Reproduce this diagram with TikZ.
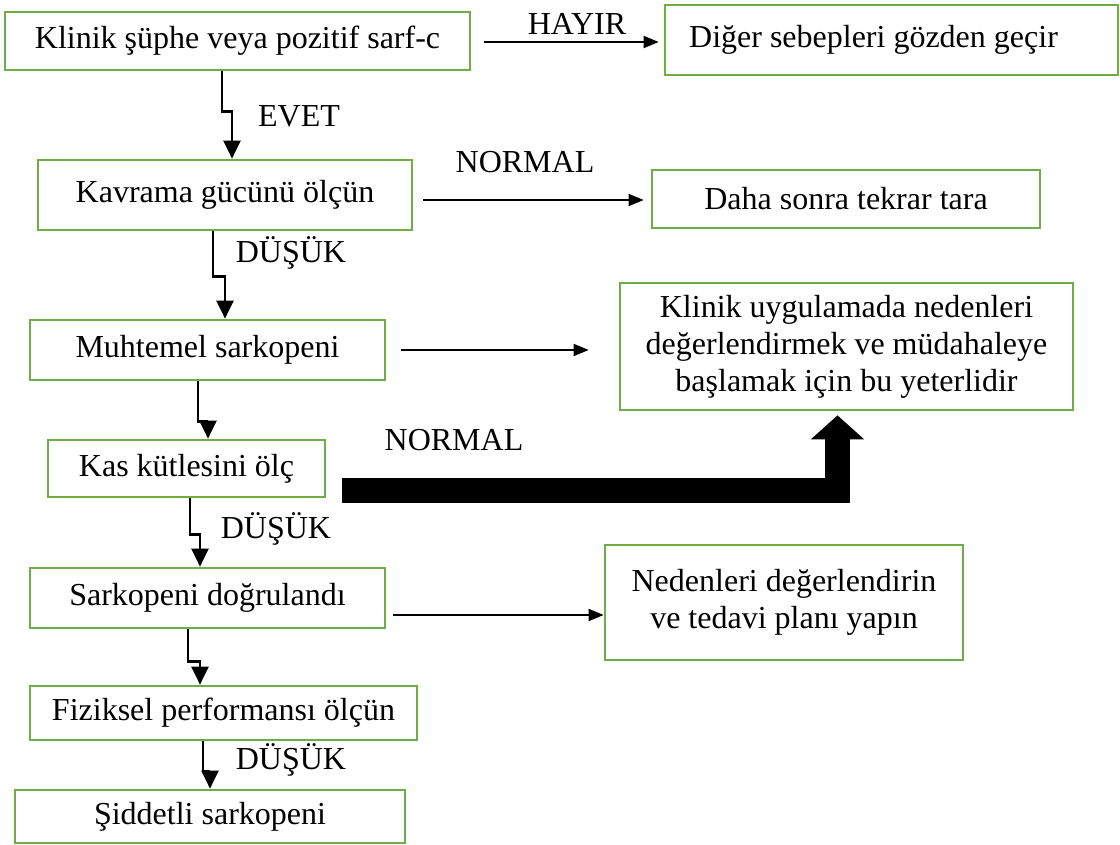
\documentclass[tikz,border=0pt]{standalone}
\usepackage{fontspec}
\setmainfont{Liberation Serif}
\usetikzlibrary{arrows.meta,calc}
\definecolor{kutu}{HTML}{70AD47}
\begin{document}
\begin{tikzpicture}[x=1pt,y=1pt]
        \tikzstyle{box}=[draw=kutu, line width=2.7pt, inner sep=0pt, align=center, font=\fontsize{32}{37}\selectfont]
        \tikzstyle{lbl}=[inner sep=0pt, font=\fontsize{32}{37}\selectfont]
        \tikzstyle{zz}=[line width=2.6pt, -{Triangle[width=17pt,length=18pt]}]
        \tikzstyle{ok}=[line width=1.8pt, -{Triangle[width=12pt,length=15pt]}]
        \useasboundingbox (0,0) rectangle (1120,-845);

        \node[box, minimum width=465, minimum height=58] (b1) at (237.5,-41) {Klinik şüphe veya pozitif sarf-c};
        \node[box, minimum width=453, minimum height=70] (b2) at (891.5,-40) {Diğer sebepleri gözden geçir\hspace*{36pt}};
        \node[box, minimum width=374, minimum height=70] (b3) at (225,-195) {Kavrama gücünü ölçün};
        \node[box, minimum width=388, minimum height=58] (b4) at (846,-199) {Daha sonra tekrar tara};
        \node[box, minimum width=355, minimum height=60] (b5) at (207.5,-350) {Muhtemel sarkopeni};
        \node[box, minimum width=453, minimum height=127] (b6) at (846.5,-346.5) {Klinik uygulamada nedenleri\\değerlendirmek ve müdahaleye\\başlamak için bu yeterlidir};
        \node[box, minimum width=277, minimum height=57] (b7) at (186.5,-468.5) {Kas kütlesini ölç};
        \node[box, minimum width=355, minimum height=60] (b8) at (207.5,-598) {Sarkopeni doğrulandı};
        \node[box, minimum width=358, minimum height=115] (b9) at (784,-602.5) {Nedenleri değerlendirin\\ve tedavi planı yapın};
        \node[box, minimum width=387, minimum height=54] (b10) at (223.5,-713) {Fiziksel performansı ölçün};
        \node[box, minimum width=390, minimum height=53] (b11) at (210,-816.5) {Şiddetli sarkopeni};

        \node[lbl] (hayir) at (577,-24) {HAYIR};
        \node[lbl] (evet) at (299,-116) {EVET};
        \node[lbl] (normal1) at (525,-162) {NORMAL};
        \node[lbl] (dusuk1) at (291,-253) {DÜŞÜK};
        \node[lbl] (normal2) at (454,-440) {NORMAL};
        \node[lbl] (dusuk2) at (276,-529) {DÜŞÜK};
        \node[lbl] (dusuk3) at (291,-760) {DÜŞÜK};

        % evet / dusuk oklari
        \draw[zz] ([xshift=-15.5pt]b1.south) -- ++(0,-40) -| ([xshift=7pt]b3.north);
        \draw[zz] ([xshift=-12pt]b3.south) -- ++(0,-45) -| ([xshift=17.5pt]b5.north);
        \draw[zz] ([xshift=-9.5pt]b5.south) -- ++(0,-40) -| ([xshift=21.5pt]b7.north);
        \draw[zz] ([xshift=3.5pt]b7.south) -- ++(0,-36) -| ([xshift=-7.5pt]b8.north);
        \draw[zz] ([xshift=-19.5pt]b8.south) -- ++(0,-32) -| ([xshift=-23.5pt]b10.north);
        \draw[zz] ([xshift=-20.5pt]b10.south) -- ++(0,-30) -| (b11.north);

        % yatay oklar
        \draw[ok] ($(b1.east)+(13,-1)$) -- ($(b1.east -| b2.west)+(-5,-1)$);
        \draw[ok] ($(b3.east)+(10,-5)$) -- ($(b3.east -| b4.west)+(-7,-5)$);
        \draw[ok] ($(b5.east)+(15,0)$) -- ($(b5.east -| b6.west)+(-30,0)$);
        \draw[ok] ($(b8.east)+(7,-17)$) -- ($(b8.east -| b9.west)+(0,-17)$);

        % kalin ok
        \draw[line width=25pt, line join=miter, -{Triangle[width=52pt,length=24pt]}] ($(b7.east)+(16,-21.5)$) -| ($(b6.south)+(-9,-4)$);
\end{tikzpicture}
\end{document}
